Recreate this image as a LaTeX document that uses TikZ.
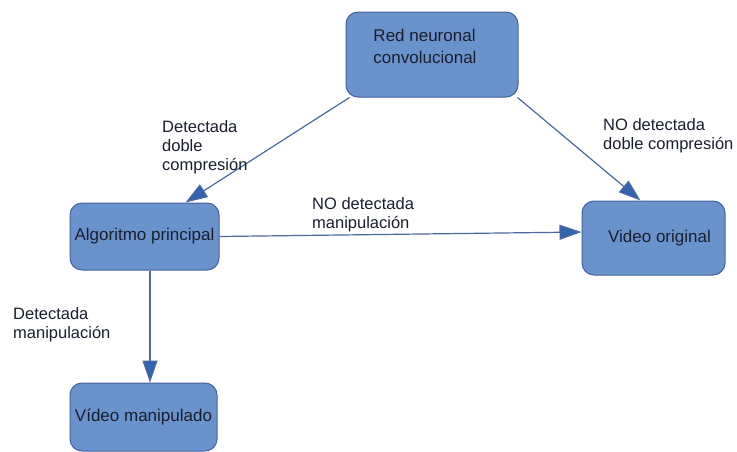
\documentclass[tikz,border=0pt]{standalone}
\usepackage{fontspec}
\setmainfont{Liberation Sans}
\usetikzlibrary{arrows.meta}

\begin{document}
\begin{tikzpicture}[x=1pt,y=-1pt,
    box/.style={draw=boxline, fill=boxfill, line width=1pt, rounded corners=12pt,
        inner sep=0pt, text=txt, font=\fontsize{17}{19}\selectfont},
    flow/.style={draw=arrowline, line width=1.2pt,
        -{Triangle[length=22pt,width=15pt,fill=tipfill]}},
    lbl/.style={anchor=north west, align=left, inner sep=0pt, text=txt,
        font=\fontsize{16.5}{19}\selectfont}]
    % Define colors
    \definecolor{boxfill}{RGB}{106,147,205}
    \definecolor{boxline}{RGB}{65,100,155}
    \definecolor{arrowline}{RGB}{75,105,160}
    \definecolor{tipfill}{RGB}{50,100,175}
    \definecolor{txt}{RGB}{25,30,45}

    \clip (0,0) rectangle (737,451);

    % Boxes
    \node[box, minimum width=172pt, minimum height=85pt, align=left,
        font=\fontsize{17}{22}\selectfont, text height=30pt, text depth=13pt]
        (red) at (432,54.5) {Red neuronal\\convolucional\hspace*{14pt}};
    \node[box, minimum width=149pt, minimum height=67pt] (algo) at (144.5,236.5) {Algoritmo principal};
    \node[box, minimum width=143pt, minimum height=74pt] (video) at (653.5,238) {\hspace*{12pt}Video original};
    \node[box, minimum width=147pt, minimum height=68pt] (manip) at (143.5,417) {Vídeo manipulado};

    % Arrows
    \draw[flow] ([xshift=4pt]red.south west) -- ([xshift=-34pt]algo.north east);
    \draw[flow] ([xshift=-1pt]red.south east) -- ([xshift=-13pt]video.north);
    \draw[flow] (algo.east) -- ([yshift=6pt]video.west);
    \draw[flow] ([xshift=5.5pt]algo.south) -- ([xshift=6.5pt]manip.north);

    % Labels
    \node[lbl] (lbldoble) at (162,120) {Detectada\\doble\\compresión};
    \node[lbl] (lblnodoble) at (603,118) {NO detectada\\doble compresión};
    \node[lbl] (lblnomanip) at (312,197) {NO detectada\\manipulación};
    \node[lbl] (lblmanip) at (13,307) {Detectada\\manipulación};
\end{tikzpicture}
\end{document}
